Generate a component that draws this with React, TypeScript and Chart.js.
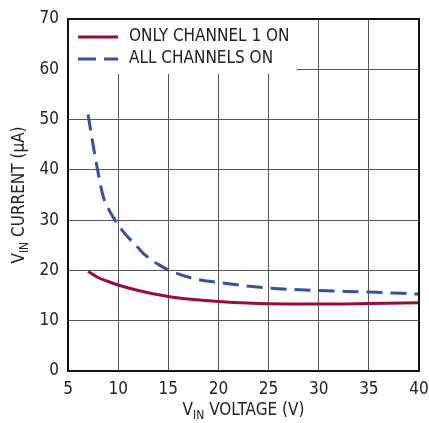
import React, { useEffect, useRef } from "react";
import { Chart, registerables } from "chart.js";

Chart.register(...registerables);

const oneVoltage = [7, 8, 9, 10, 12, 15, 17.5, 20, 25, 30, 35, 40];
const oneCurrent = [19.8, 18.6, 17.8, 17.1, 16.0, 14.8, 14.2, 13.8, 13.35, 13.3, 13.4, 13.55];
const allVoltage = [7, 7.5, 8, 8.5, 9, 9.5, 10, 11, 12, 12.5, 13, 14, 15, 17.5, 20, 25, 30, 35, 40];
const allCurrent = [51, 45, 39.5, 34.8, 32.4, 30.6, 29, 26.6, 24.5, 23.4, 22.6, 21.2, 20.1, 18.4, 17.6, 16.5, 16.0, 15.7, 15.3];
const legendLabels = ["ONLY CHANNEL 1 ON", "ALL CHANNELS ON"];
const xTitleMain = ["V", "IN", " VOLTAGE (V)"];
const yTitleMain = ["V", "IN", " CURRENT (µA)"];

const FONT = "'DejaVu Sans Condensed', 'Liberation Sans Narrow', sans-serif";
const RED = "#9a0d36";
const BLUE = "#3452a4";

function drawSubTitle(ctx: CanvasRenderingContext2D, parts: string[], cx: number, cy: number) {
  const big = "17px " + FONT;
  const small = "12px " + FONT;
  ctx.font = big;
  const w0 = ctx.measureText(parts[0]).width;
  const w2 = ctx.measureText(parts[2]).width;
  ctx.font = small;
  const w1 = ctx.measureText(parts[1]).width;
  const total = w0 + w1 + w2;
  let x = cx - total / 2;
  ctx.fillStyle = "#222";
  ctx.textBaseline = "middle";
  ctx.textAlign = "left";
  ctx.font = big;
  ctx.fillText(parts[0], x, cy);
  x += w0;
  ctx.font = small;
  ctx.fillText(parts[1], x, cy + 5);
  x += w1;
  ctx.font = big;
  ctx.fillText(parts[2], x, cy);
}

const decorPlugin = {
  id: "decor",
  beforeDatasetsDraw(chart: any) {
    const { ctx, chartArea } = chart;
    ctx.save();
    ctx.fillStyle = "#fff";
    ctx.fillRect(chartArea.left + 1, chartArea.top + 1, 296 - chartArea.left, 73 - chartArea.top);
    ctx.restore();
  },
  afterDraw(chart: any) {
    const { ctx, chartArea } = chart;
    ctx.save();
    ctx.strokeStyle = "#111";
    ctx.lineWidth = 2;
    ctx.strokeRect(chartArea.left, chartArea.top, chartArea.right - chartArea.left, chartArea.bottom - chartArea.top);
    const lx0 = 78, lx1 = 118;
    const ys = [37, 59];
    ctx.lineWidth = 3;
    ctx.strokeStyle = RED;
    ctx.setLineDash([]);
    ctx.beginPath();
    ctx.moveTo(lx0, ys[0]);
    ctx.lineTo(lx1, ys[0]);
    ctx.stroke();
    ctx.strokeStyle = BLUE;
    ctx.setLineDash([18, 8]);
    ctx.beginPath();
    ctx.moveTo(lx0, ys[1]);
    ctx.lineTo(lx1, ys[1]);
    ctx.stroke();
    ctx.setLineDash([]);
    ctx.fillStyle = "#222";
    ctx.font = "17px " + FONT;
    ctx.textAlign = "left";
    ctx.textBaseline = "middle";
    ctx.fillText(legendLabels[0], 129, ys[0]);
    ctx.fillText(legendLabels[1], 129, ys[1]);
    drawSubTitle(ctx, xTitleMain, (chartArea.left + chartArea.right) / 2, 411);
    ctx.translate(20, (chartArea.top + chartArea.bottom) / 2);
    ctx.rotate(-Math.PI / 2);
    drawSubTitle(ctx, yTitleMain, 0, 0);
    ctx.restore();
  },
};

export default function App() {
  const ref = useRef<HTMLCanvasElement | null>(null);
  useEffect(() => {
    document.body.style.margin = "0";
    const canvas = ref.current!;
    const chart = new Chart(canvas, {
      type: "line",
      data: {
        datasets: [
          {
            label: legendLabels[0],
            data: oneVoltage.map((x, i) => ({ x, y: oneCurrent[i] })),
            borderColor: RED,
            borderWidth: 3,
            pointRadius: 0,
            cubicInterpolationMode: "monotone",
            fill: false,
          },
          {
            label: legendLabels[1],
            data: allVoltage.map((x, i) => ({ x, y: allCurrent[i] })),
            borderColor: BLUE,
            borderWidth: 3,
            borderDash: [16, 8],
            pointRadius: 0,
            cubicInterpolationMode: "monotone",
            fill: false,
          },
        ],
      },
      options: {
        animation: false,
        responsive: false,
        devicePixelRatio: 1,
        layout: { padding: { left: 0, right: 10, top: 19, bottom: 0 } },
        plugins: { legend: { display: false }, tooltip: { enabled: false } },
        scales: {
          x: {
            type: "linear",
            min: 5,
            max: 40,
            ticks: { stepSize: 5, color: "#222", font: { family: FONT, size: 17 }, padding: 8, maxRotation: 0 },
            grid: { color: "#555", lineWidth: 1, drawTicks: false },
            border: { display: false },
            afterFit: (s: any) => { s.height = 52; s.paddingLeft = 0; s.paddingRight = 0; },
          },
          y: {
            type: "linear",
            min: 0,
            max: 70,
            ticks: { stepSize: 10, color: "#222", font: { family: FONT, size: 17 }, padding: 9 },
            grid: { color: "#555", lineWidth: 1, drawTicks: false },
            border: { display: false },
            afterFit: (s: any) => { s.width = 68; s.paddingTop = 0; s.paddingBottom = 0; },
          },
        },
      },
      plugins: [decorPlugin],
    } as any);
    return () => chart.destroy();
  }, []);
  return (
    <div style={{ position: "fixed", left: 0, top: 0, width: 429, height: 423, background: "#fff" }}>
      <canvas ref={ref} width={429} height={423} style={{ width: 429, height: 423 }} />
    </div>
  );
}
